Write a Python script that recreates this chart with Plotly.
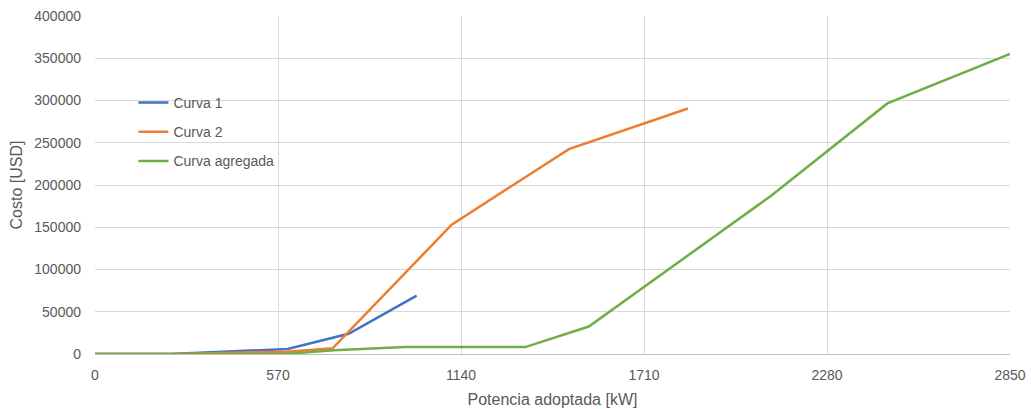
import plotly.graph_objects as go

# Data
curva1_x = [0, 235, 600, 790, 1002]
curva1_y = [0, 0, 6000, 24000, 69000]

curva2_x = [0, 240, 598, 740, 1111, 1476, 1847]
curva2_y = [0, 0, 2700, 6800, 153000, 242500, 290500]

agregada_x = [0, 590, 745, 965, 1340, 1538, 2105, 2468, 2850]
agregada_y = [0, 0, 4500, 8200, 8200, 32500, 187000, 296500, 355000]

x_ticks = [0, 570, 1140, 1710, 2280, 2850]
y_ticks = [0, 50000, 100000, 150000, 200000, 250000, 300000, 350000, 400000]

FONT = "Liberation Sans, Arial, sans-serif"
GREY = "#595959"

fig = go.Figure()
series = [
    ("Curva 1", curva1_x, curva1_y, "#4472C4"),
    ("Curva 2", curva2_x, curva2_y, "#ED7D31"),
    ("Curva agregada", agregada_x, agregada_y, "#70AD47"),
]
for i, (name, xs, ys, col) in enumerate(series):
    fig.add_trace(go.Scatter(
        x=xs, y=ys, mode="lines", name=name,
        line=dict(color=col, width=2.5),
        legendgroup=f"g{i}",
    ))

fig.update_layout(
    width=1031, height=409,
    margin=dict(l=95, r=21, t=16, b=55, autoexpand=False),
    paper_bgcolor="white", plot_bgcolor="white",
    font=dict(family=FONT, size=14, color=GREY),
    showlegend=True,
    legend=dict(
        x=0.042, y=0.79, xanchor="left", yanchor="top",
        bgcolor="rgba(0,0,0,0)",
        font=dict(family=FONT, size=14, color=GREY),
        traceorder="grouped", tracegroupgap=8,
    ),
    xaxis=dict(
        range=[0, 2850], tickvals=x_ticks, automargin=False,
        showgrid=True, gridcolor="#d9d9d9", gridwidth=1,
        showline=True, linecolor="#bfbfbf", linewidth=1,
        zeroline=False, ticks="", ticklen=0, ticklabelstandoff=8,
        title=dict(text="Potencia adoptada [kW]", standoff=12,
                   font=dict(family=FONT, size=16, color=GREY)),
        tickfont=dict(family=FONT, size=14, color=GREY),
    ),
    yaxis=dict(
        range=[0, 400000], tickvals=y_ticks, tickformat="d", automargin=False,
        showgrid=True, gridcolor="#d9d9d9", gridwidth=1,
        showline=False, zeroline=False, ticks="", ticklabelstandoff=13,
        title=dict(text="Costo [USD]", standoff=7,
                   font=dict(family=FONT, size=16, color=GREY)),
        tickfont=dict(family=FONT, size=14, color=GREY),
    ),
)

fig.write_html("out.html", config={"displayModeBar": False},
               post_script="document.body.style.margin='0';")
